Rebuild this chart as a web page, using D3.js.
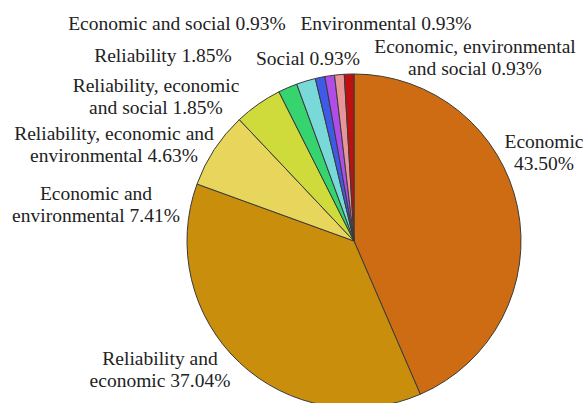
<!DOCTYPE html>
<html>
<head>
<meta charset="utf-8">
<script src="https://cdn.jsdelivr.net/npm/d3@7"></script>
<style>
  body { margin: 0; background: #fff; }
  .lbl { font-family: "Liberation Serif", "Times New Roman", Times, serif; }
</style>
</head>
<body>
<div id="main"></div>
<script>
// categories in drawing order, clockwise from 12 o'clock
var categories = [
    "Economic",
    "Reliability and economic",
    "Economic and environmental",
    "Reliability, economic and environmental",
    "Reliability, economic and social",
    "Reliability",
    "Economic and social",
    "Social",
    "Environmental",
    "Economic, environmental and social"
];
// share of papers (%)
var shares = [43.50, 37.04, 7.41, 4.63, 1.85, 1.85, 0.93, 0.93, 0.93, 0.93];

var ctx = {
    w: 587,
    h: 403,
    cx: 354,
    cy: 241,
    r: 167,
    LINE_H: 22,
    colors: ["#CD6C12", "#C98E0C", "#E8D65C", "#CFDB3A", "#36D46E",
             "#79D8D8", "#3E5BE8", "#B04CE8", "#E89598", "#BE1010"],
    // label anchor (centre x, first baseline) and words on first line (0 = one line)
    labels: [
        {x: 544, y: 148, wrap: 1},
        {x: 160, y: 365, wrap: 2},
        {x: 96,  y: 200, wrap: 2},
        {x: 114, y: 140, wrap: 3},
        {x: 156, y: 92,  wrap: 2},
        {x: 163, y: 62,  wrap: 0},
        {x: 177, y: 30,  wrap: 0},
        {x: 308, y: 65,  wrap: 0},
        {x: 386, y: 30,  wrap: 0},
        {x: 475, y: 53,  wrap: 2}
    ]
};

var labelLines = function(i){
    var words = (categories[i] + " " + d3.format(".2f")(shares[i]) + "%").split(" ");
    var n = ctx.labels[i].wrap;
    if (n == 0){ return [words.join(" ")]; }
    return [words.slice(0, n).join(" "), words.slice(n).join(" ")];
};

var createViz = function(){
    var svgEl = d3.select("#main").append("svg")
        .attr("width", ctx.w)
        .attr("height", ctx.h);

    var pie = d3.pie().sort(null).value(function(d){ return d; });
    var arc = d3.arc().innerRadius(0).outerRadius(ctx.r);

    svgEl.append("g")
        .attr("transform", "translate(" + ctx.cx + "," + ctx.cy + ")")
        .selectAll("path")
        .data(pie(shares))
        .enter()
        .append("path")
        .attr("d", arc)
        .style("fill", function(d, i){ return ctx.colors[i]; })
        .style("stroke", "#3a3a3a")
        .style("stroke-width", 1)
        .style("stroke-linejoin", "round");

    var texts = svgEl.append("g")
        .selectAll("text")
        .data(categories)
        .enter()
        .append("text")
        .attr("class", "lbl")
        .attr("x", function(d, i){ return ctx.labels[i].x; })
        .attr("y", function(d, i){ return ctx.labels[i].y; })
        .style("text-anchor", "middle")
        .style("font-size", "19.5px")
        .style("fill", "#222");

    texts.each(function(d, i){
        var t = d3.select(this);
        labelLines(i).forEach(function(line, k){
            t.append("tspan")
                .attr("x", ctx.labels[i].x)
                .attr("dy", k == 0 ? 0 : ctx.LINE_H)
                .text(line);
        });
    });
};

createViz();
</script>
</body>
</html>
